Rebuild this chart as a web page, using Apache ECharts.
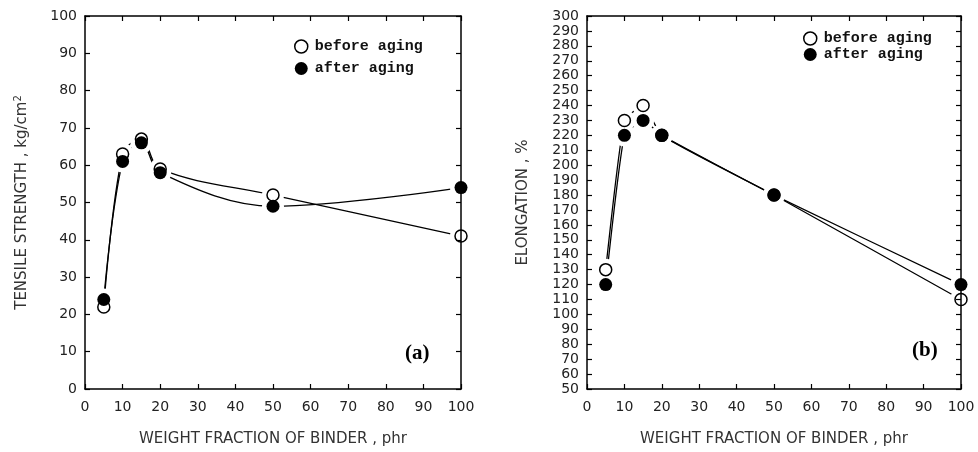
<!DOCTYPE html>
<html><head><meta charset="utf-8">
<script src="https://cdn.jsdelivr.net/npm/echarts@6/dist/echarts.min.js"></script>
<style>html,body{margin:0;padding:0;background:#fff}#c{width:978px;height:452px}</style>
</head><body><div id="c"></div>
<script>
const xVals = [5, 10, 15, 20, 50, 100];
const tensileBefore = [22, 63, 67, 59, 52, 41];
const tensileAfter = [24, 61, 66, 58, 49, 54];
const elongBefore = [130, 230, 240, 220, 180, 110];
const elongAfter = [120, 220, 230, 220, 180, 120];
const legendNames = ['before aging', 'after aging'];
const panelLabels = ['(a)', '(b)'];
const xTitle = 'WEIGHT FRACTION OF BINDER , phr';
const yTitleA = 'TENSILE STRENGTH , kg/cm{sup|2}';
const yTitleB = 'ELONGATION , %';

const pair = (ys) => xVals.map((x, i) => [x, ys[i]]);
const labelFont = {fontFamily: 'DejaVu Sans', fontSize: 14, color: '#222'};
const titleFont = {fontFamily: 'DejaVu Sans', fontSize: 15, color: '#333'};
const axisLine = {onZero: false, lineStyle: {color: '#000', width: 1.5}};
const tick = {inside: true, length: 5, lineStyle: {color: '#000', width: 1.2}};

function xAxes(gi) {
  return [
    {type: 'value', gridIndex: gi, min: 0, max: 100, interval: 10, position: 'bottom',
     axisLine, axisTick: tick, splitLine: {show: false},
     axisLabel: Object.assign({margin: 11}, labelFont),
     name: xTitle, nameLocation: 'middle', nameGap: 43, nameTextStyle: titleFont},
    {type: 'value', gridIndex: gi, min: 0, max: 100, interval: 10, position: 'top',
     axisLine, axisTick: tick, splitLine: {show: false}, axisLabel: {show: false}}
  ];
}
function yAxes(gi, min, max, name, gap) {
  return [
    {type: 'value', gridIndex: gi, min, max, interval: 10, position: 'left',
     axisLine, axisTick: tick, splitLine: {show: false},
     axisLabel: Object.assign({margin: 8}, labelFont),
     name, nameLocation: 'middle', nameGap: gap, nameRotate: 90,
     nameTextStyle: Object.assign({
       rich: {sup: {fontSize: 10, verticalAlign: 'top', padding: [0, 0, 8, 0], color: '#333', fontFamily: 'DejaVu Sans'}}}, titleFont)},
    {type: 'value', gridIndex: gi, min, max, interval: 10, position: 'right', z: 10,
     axisLine, axisTick: tick, splitLine: {show: false}, axisLabel: {show: false}}
  ];
}
function seriesFor(gi, before, after, smooth) {
  const xi = gi * 2, yi = gi * 2;
  const line = (d) => ({type: 'line', xAxisIndex: xi, yAxisIndex: yi, data: pair(d), smooth,
    showSymbol: false, lineStyle: {color: '#000', width: 1.3}, silent: true, z: 2});
  const halo = (d) => ({type: 'scatter', xAxisIndex: xi, yAxisIndex: yi, data: pair(d), symbolSize: 22,
    itemStyle: {color: '#fff', opacity: 1}, silent: true, z: 3});
  return [
    line(before), line(after), halo(before), halo(after),
    {type: 'scatter', name: legendNames[0], xAxisIndex: xi, yAxisIndex: yi, data: pair(before), symbolSize: 12,
     itemStyle: {color: '#fff', borderColor: '#000', borderWidth: 1.5, opacity: 1}, z: 4},
    {type: 'scatter', name: legendNames[1], xAxisIndex: xi, yAxisIndex: yi, data: pair(after), symbolSize: 13,
     itemStyle: {color: '#000', opacity: 1}, z: 5}
  ];
}
function legendAt(left, top, gap) {
  return {orient: 'vertical', left, top, itemGap: gap, itemWidth: 13, itemHeight: 13, selectedMode: false,
    data: [
      {name: legendNames[0], icon: 'circle', itemStyle: {color: '#fff', borderColor: '#000', borderWidth: 1.5}},
      {name: legendNames[1], icon: 'circle', itemStyle: {color: '#000'}}
    ],
    textStyle: {fontFamily: 'Liberation Mono', fontWeight: 'bold', fontSize: 15, color: '#111', padding: [0, 0, 0, 2]}};
}

const chart = echarts.init(document.getElementById('c'));
chart.setOption({
  animation: false,
  backgroundColor: '#fff',
  grid: [
    {left: 85, right: 517, top: 16, bottom: 61},
    {left: 587, right: 17, top: 16, bottom: 61}
  ],
  xAxis: [...xAxes(0), ...xAxes(1)],
  yAxis: [...yAxes(0, 0, 100, yTitleA, 54), ...yAxes(1, 50, 300, yTitleB, 56)],
  legend: [legendAt(289, 34, 7), legendAt(798, 26, 1)],
  graphic: [
    {type: 'text', left: 405, top: 343, style: {text: panelLabels[0], font: 'bold 21px "Liberation Serif"', fill: '#000'}},
    {type: 'text', left: 912, top: 340, style: {text: panelLabels[1], font: 'bold 21px "Liberation Serif"', fill: '#000'}}
  ],
  series: [...seriesFor(0, tensileBefore, tensileAfter, 0.35), ...seriesFor(1, elongBefore, elongAfter, 0.15)]
});
</script></body></html>
